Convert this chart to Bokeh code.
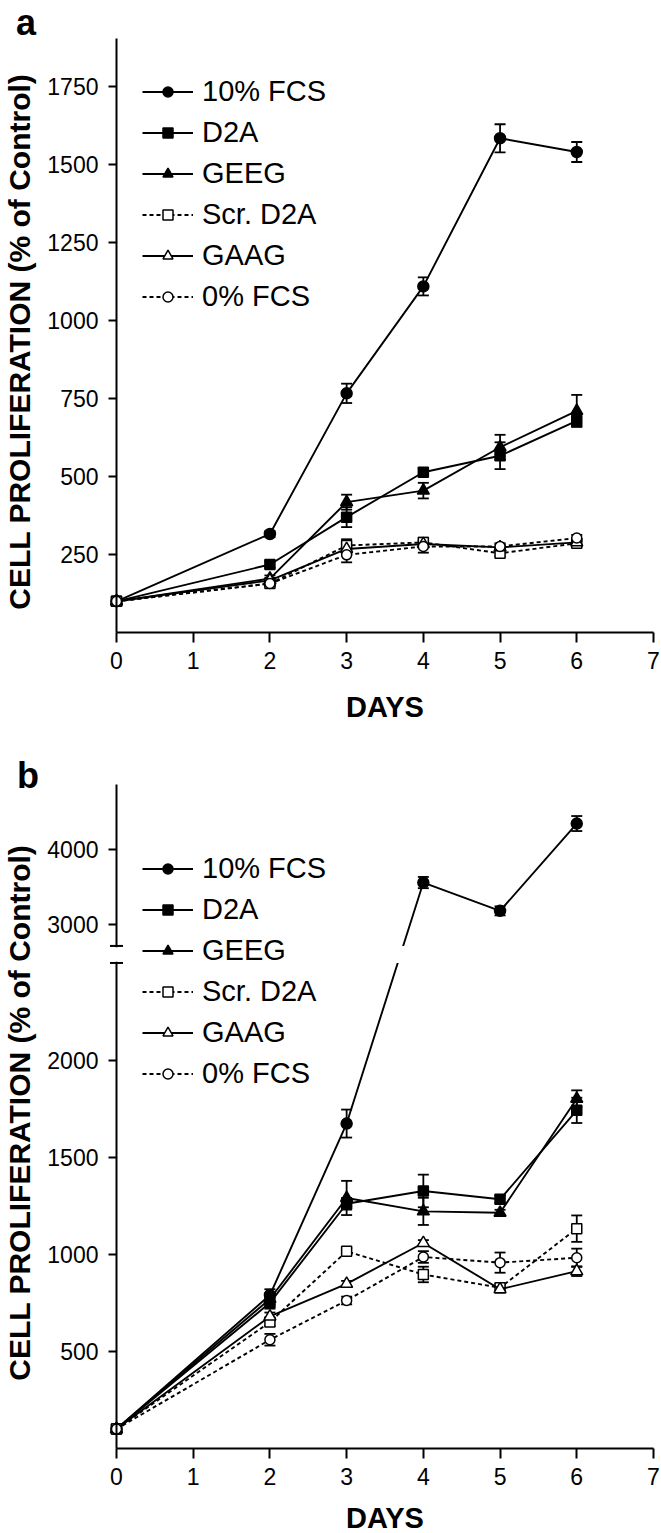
import math
from bokeh.plotting import figure
from bokeh.models import (Range1d, FixedTicker, Whisker, TeeHead, ColumnDataSource,
                          Legend, LegendItem, Label, BoxAnnotation,
                          CustomJSTransform, CustomJSTickFormatter)
from bokeh.layouts import column
from bokeh.transform import transform
from bokeh.embed import file_html
from bokeh.resources import INLINE

# ---------------- data ----------------
days = [0, 2, 3, 4, 5, 6]
names = ["10% FCS", "D2A", "GEEG", "Scr. D2A", "GAAG", "0% FCS"]

a_fcs10 = [100, 316, 767, 1110, 1585, 1541]
a_fcs10_err = [0, 10, 31, 29, 45, 32]
a_d2a = [100, 218, 370, 514, 567, 679]
a_d2a_err = [0, 10, 32, 12, 43, 19]
a_geeg = [100, 173, 418, 455, 594, 711]
a_geeg_err = [0, 10, 24, 25, 40, 51]
a_scr = [100, 157, 279, 289, 254, 286]
a_scr_err = [0, 8, 20, 15, 10, 10]
a_gaag = [100, 167, 268, 284, 273, 289]
a_gaag_err = [0, 8, 15, 10, 10, 10]
a_fcs0 = [100, 157, 249, 276, 276, 303]
a_fcs0_err = [0, 8, 24, 20, 10, 10]

b_fcs10 = [100, 790, 1673, 3564, 3187, 4350]
b_fcs10_err = [0, 30, 72, 75, 60, 100]
b_d2a = [100, 750, 1260, 1326, 1283, 1741]
b_d2a_err = [0, 30, 30, 84, 20, 65]
b_geeg = [100, 770, 1290, 1221, 1214, 1801]
b_geeg_err = [0, 30, 88, 70, 15, 43]
b_scr = [100, 651, 1015, 896, 828, 1132]
b_scr_err = [0, 20, 15, 40, 20, 68]
b_gaag = [100, 680, 848, 1058, 820, 913]
b_gaag_err = [0, 20, 15, 15, 15, 25]
b_fcs0 = [100, 560, 762, 986, 957, 982]
b_fcs0_err = [0, 30, 20, 30, 52, 47]

x_ticks = [0, 1, 2, 3, 4, 5, 6, 7]
a_y_ticks = [250, 500, 750, 1000, 1250, 1500, 1750]
b_y_ticks = [500, 1000, 1500, 2000, 3000, 4000]

# axis extents
X_AXIS_END = 7
A_AXIS_TOP = 1905

# broken axis of panel b
B_LO = 2500      # top of the lower segment
B_HI = 2720      # bottom of the upper segment
B_TOP = 4870     # top of the upper segment
B_R = 0.3866     # scale of upper segment relative to lower
B_GAP = 87.6     # gap, in lower-segment units


def disp(v):
    return v if v <= B_LO else B_LO + B_GAP + (v - B_HI) * B_R


brk = CustomJSTransform(
    args=dict(lo=B_LO, hi=B_HI, gap=B_GAP, r=B_R),
    func="return x <= lo ? x : lo + gap + (x - hi) * r;",
    v_func="""
const out = new Float64Array(xs.length);
for (let i = 0; i < xs.length; i++) {
  const v = xs[i];
  out[i] = v <= lo ? v : lo + gap + (v - hi) * r;
}
return out;
""")

brk_fmt = CustomJSTickFormatter(
    args=dict(lo=B_LO, hi=B_HI, gap=B_GAP, r=B_R),
    code="""
if (tick <= lo + 1e-6) { return tick.toFixed(0); }
return Math.round(hi + (tick - lo - gap) / r).toFixed(0);
""")

STY = {
    "10% FCS": dict(marker="circle", fill="black", dash="solid", size=11),
    "D2A": dict(marker="square", fill="black", dash="solid", size=10),
    "GEEG": dict(marker="triangle", fill="black", dash="solid", size=12),
    "Scr. D2A": dict(marker="square", fill="white", dash="4 3", size=10),
    "GAAG": dict(marker="triangle", fill="white", dash="solid", size=12),
    "0% FCS": dict(marker="circle", fill="white", dash="4 3", size=10),
}

FONT = "Liberation Sans"
W = 661
X0_PX = 116          # pixel of day 0
SX = 76.71           # pixels per day


def px2x(ix):
    return (ix - X0_PX) / SX


def make_fig(height, y0_px, sy, axis_top, y_ticks_disp, fmt=None):
    # the frame fills the whole canvas; axes are fixed at x=0 / y=0
    p = figure(width=W, height=height,
               x_range=Range1d(-X0_PX / SX, (W - X0_PX) / SX),
               y_range=Range1d(-(height - y0_px) / sy, y0_px / sy),
               output_backend="svg", toolbar_location=None,
               min_border_left=0, min_border_right=0,
               min_border_top=0, min_border_bottom=0)
    p.title.visible = False
    p.outline_line_color = None
    p.grid.visible = False
    p.background_fill_color = "white"
    p.border_fill_color = "white"

    xa = p.xaxis[0]
    xa.fixed_location = 0
    xa.ticker = FixedTicker(ticks=x_ticks)
    xa.bounds = (0, X_AXIS_END)
    xa.axis_line_width = 2
    xa.major_tick_line_width = 2
    xa.major_tick_out = 10
    xa.major_tick_in = 0
    xa.minor_tick_line_color = None
    xa.major_label_text_font = FONT
    xa.major_label_text_font_size = "23px"
    xa.major_label_text_color = "black"
    xa.major_label_standoff = 9

    ya = p.yaxis[0]
    ya.fixed_location = 0
    ya.ticker = FixedTicker(ticks=y_ticks_disp)
    ya.bounds = (0, axis_top)
    if fmt is not None:
        ya.formatter = fmt
    ya.axis_line_width = 2
    ya.major_tick_line_width = 2
    ya.major_tick_out = 8
    ya.major_tick_in = 0
    ya.minor_tick_line_color = None
    ya.major_label_text_font = FONT
    ya.major_label_text_font_size = "23px"
    ya.major_label_text_color = "black"
    ya.major_label_standoff = 10
    ya.major_label_orientation = "horizontal"
    return p


def add_series(p, name, vals, errs, ytr=None):
    st = STY[name]
    ycol = transform("y", ytr) if ytr is not None else "y"
    src = ColumnDataSource(dict(x=days, y=vals))
    ex = [d for d, e in zip(days, errs) if e > 0]
    eu = [v + e for v, e in zip(vals, errs) if e > 0]
    el = [v - e for v, e in zip(vals, errs) if e > 0]
    esrc = ColumnDataSource(dict(x=ex, upper=eu, lower=el))
    up = transform("upper", ytr) if ytr is not None else "upper"
    lo = transform("lower", ytr) if ytr is not None else "lower"
    w = Whisker(base="x", upper=up, lower=lo, source=esrc, level="underlay",
                line_width=1.8, line_color="black",
                upper_head=TeeHead(size=11, line_width=1.8, line_color="black"),
                lower_head=TeeHead(size=11, line_width=1.8, line_color="black"))
    p.add_layout(w)
    lr = p.line("x", ycol, source=src, line_width=1.9, line_color="black",
                line_dash=st["dash"])
    sr = p.scatter("x", ycol, source=src, marker=st["marker"], size=st["size"],
                   fill_color=st["fill"], line_color="black", line_width=1.5)
    return LegendItem(label=name, renderers=[lr, sr])


def add_legend(p, items, loc):
    lg = Legend(items=items, location=loc, border_line_color=None,
                background_fill_alpha=0, label_text_font=FONT,
                label_text_font_size="29px", label_text_color="black",
                glyph_width=51, glyph_height=25, spacing=8, padding=0, margin=0,
                label_standoff=9, label_height=25)
    p.add_layout(lg)


def label(p, x, y, text, size, angle=0.0, baseline="alphabetic"):
    p.add_layout(Label(x=x, y=y, text=text, angle=angle, text_align="center",
                       text_baseline=baseline, text_font=FONT,
                       text_font_style="bold", text_font_size=size,
                       text_color="black"))


YLABEL = "CELL PROLIFERATION  (% of Control)"

# ---------------- panel a ----------------
HA = 740
YA0 = 632                     # pixel of y = 0
SYA = 594 / A_AXIS_TOP        # pixels per unit
pa = make_fig(HA, YA0, SYA, A_AXIS_TOP, a_y_ticks)

a_sets = [a_fcs10, a_d2a, a_geeg, a_scr, a_gaag, a_fcs0]
a_errs = [a_fcs10_err, a_d2a_err, a_geeg_err, a_scr_err, a_gaag_err, a_fcs0_err]
items_a = [add_series(pa, n, v, e) for n, v, e in zip(names, a_sets, a_errs)]
add_legend(pa, items_a, (142, 427))


def pya(iy):
    return (YA0 - iy) / SYA


label(pa, px2x(19), pya(337), YLABEL, "30px", math.pi / 2, "middle")
label(pa, px2x(25.5), pya(22), "a", "36px")
label(pa, 3.5, pya(706), "DAYS", "29px")

# ---------------- panel b ----------------
HB = 793
YB0 = 708
B_AXIS_TOP = disp(B_TOP)
SYB = 664 / B_AXIS_TOP
pb = make_fig(HB, YB0, SYB, B_AXIS_TOP, [disp(t) for t in b_y_ticks], brk_fmt)

b_sets = [b_fcs10, b_d2a, b_geeg, b_scr, b_gaag, b_fcs0]
b_errs = [b_fcs10_err, b_d2a_err, b_geeg_err, b_scr_err, b_gaag_err, b_fcs0_err]
items_b = [add_series(pb, n, v, e, brk) for n, v, e in zip(names, b_sets, b_errs)]
add_legend(pb, items_b, (142, 443))

# the break: white band over the axis and over the line that crosses it
px_unit = 1 / SYB
pb.add_layout(BoxAnnotation(left=-0.05, right=0.05, bottom=B_LO + 1.2 * px_unit,
                            top=disp(B_HI) - 1.2 * px_unit, fill_color="white",
                            fill_alpha=1, line_color=None, level="overlay"))
pb.add_layout(BoxAnnotation(left=3.2, right=4.0, bottom=B_LO, top=disp(B_HI),
                            fill_color="white", fill_alpha=1, line_color=None,
                            level="overlay"))
pb.scatter(x=[0, 0], y=[B_LO, disp(B_HI)], marker="dash", size=13,
           line_width=2, line_color="black", level="overlay")


def pyb(iy):
    return (YB0 - iy) / SYB


label(pb, px2x(19), pyb(368), YLABEL, "30px", math.pi / 2, "middle")
label(pb, px2x(27.5), pyb(35), "b", "36px")
label(pb, 3.5, pyb(777), "DAYS", "29px")

layout = column(pa, pb, spacing=0)
open("out.html", "w").write(file_html(layout, INLINE))
